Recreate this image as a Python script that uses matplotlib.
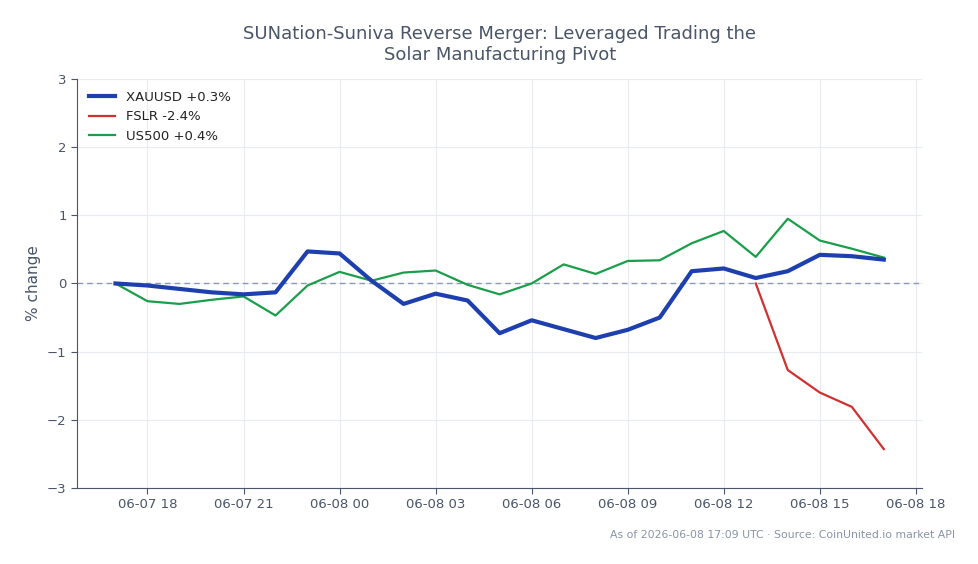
import numpy as np
import pandas as pd
import matplotlib
matplotlib.use("Agg")
import matplotlib.pyplot as plt
import matplotlib.dates as mdates

times = pd.date_range("2026-06-07 17:00", "2026-06-08 17:00", freq="h")

xauusd = [0.0, -0.03, -0.08, -0.13, -0.16, -0.13, 0.47, 0.44, 0.04, -0.30, -0.15, -0.25,
          -0.73, -0.54, -0.67, -0.80, -0.68, -0.50, 0.18, 0.22, 0.08, 0.18, 0.42, 0.40, 0.35]
us500 = [0.0, -0.26, -0.30, -0.24, -0.19, -0.47, -0.03, 0.17, 0.04, 0.16, 0.19, -0.02,
         -0.16, 0.0, 0.28, 0.14, 0.33, 0.34, 0.59, 0.77, 0.39, 0.95, 0.63, 0.51, 0.38]
fslr_times = times[20:]
fslr = [0.0, -1.27, -1.60, -1.81, -2.43]

labels = ["XAUUSD +0.3%", "FSLR -2.4%", "US500 +0.4%"]
title = "SUNation-Suniva Reverse Merger: Leveraged Trading the\nSolar Manufacturing Pivot"
footer = "As of 2026-06-08 17:09 UTC · Source: CoinUnited.io market API"

text_c = "#4a5568"
fig = plt.figure(figsize=(9.79, 5.64), dpi=100)
ax = fig.add_axes([0.0787, 0.1348, 0.8633, 0.7252])

ax.plot(times, xauusd, color="#1e40af", lw=3.0, label=labels[0], zorder=4)
ax.plot(fslr_times, fslr, color="#d03030", lw=1.6, label=labels[1], zorder=3)
ax.plot(times, us500, color="#1a9e4a", lw=1.6, label=labels[2], zorder=3)
ax.axhline(0, color="#8a9ab5", lw=1.0, ls=(0, (4, 3)), zorder=2)

ax.set_ylim(-3, 3)
ax.set_yticks([-3, -2, -1, 0, 1, 2, 3])
ax.set_yticklabels(["\u22123", "\u22122", "\u22121", "0", "1", "2", "3"])
ax.xaxis.set_major_locator(mdates.HourLocator(byhour=[0, 3, 6, 9, 12, 15, 18, 21]))
ax.xaxis.set_major_formatter(mdates.DateFormatter("%m-%d %H"))
ax.grid(True, color="#e8ebf0", lw=0.8)
ax.set_axisbelow(True)
for s in ["top", "right"]:
    ax.spines[s].set_visible(False)
for s in ["left", "bottom"]:
    ax.spines[s].set_color(text_c)
ax.tick_params(colors=text_c, labelsize=9.5, length=4)
ax.set_ylabel("% change", color=text_c, fontsize=11)
ax.set_title(title, color=text_c, fontsize=13, pad=14)

leg = ax.legend(loc="upper left", frameon=False, fontsize=9.5)
for t in leg.get_texts():
    t.set_color("#222222")

fig.text(0.976, 0.052, footer, ha="right", va="center", fontsize=7.8, color="#8a94a6")
fig.savefig("out.png", dpi=100)
